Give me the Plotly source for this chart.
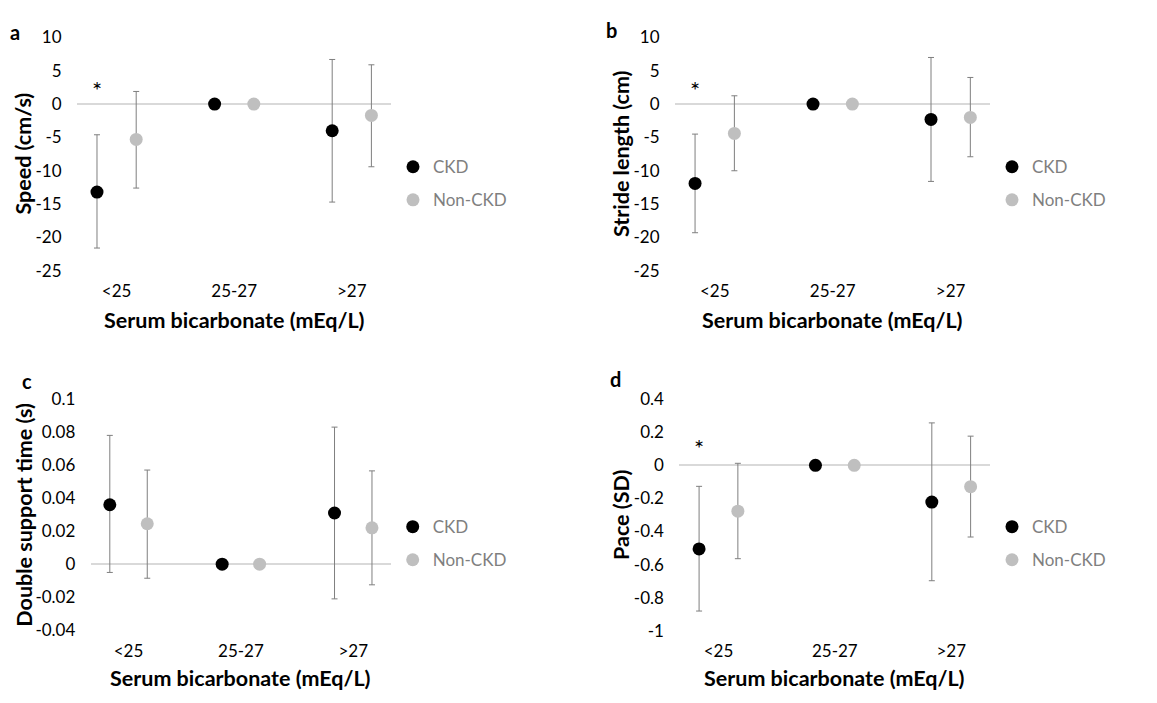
import plotly.graph_objects as go

W, H = 1157, 703

categories = ["<25", "25-27", ">27"]
series_names = ["CKD", "Non-CKD"]

# Panel a: Speed (cm/s)
speed_ckd = [-13.2, 0, -4.0]
speed_ckd_upper = [-4.6, 0, 6.7]
speed_ckd_lower = [-21.6, 0, -14.7]
speed_non = [-5.3, 0, -1.7]
speed_non_upper = [1.9, 0, 5.9]
speed_non_lower = [-12.6, 0, -9.4]

# Panel b: Stride length (cm)
stride_ckd = [-11.9, 0, -2.3]
stride_ckd_upper = [-4.5, 0, 7.0]
stride_ckd_lower = [-19.3, 0, -11.6]
stride_non = [-4.4, 0, -2.0]
stride_non_upper = [1.25, 0, 4.0]
stride_non_lower = [-10.0, 0, -7.9]

# Panel c: Double support time (s)
dst_ckd = [0.036, 0, 0.031]
dst_ckd_upper = [0.078, 0, 0.083]
dst_ckd_lower = [-0.005, 0, -0.021]
dst_non = [0.0245, 0, 0.022]
dst_non_upper = [0.057, 0, 0.0565]
dst_non_lower = [-0.0085, 0, -0.0125]

# Panel d: Pace (SD)
pace_ckd = [-0.505, 0, -0.222]
pace_ckd_upper = [-0.127, 0, 0.256]
pace_ckd_lower = [-0.88, 0, -0.697]
pace_non = [-0.277, 0, -0.129]
pace_non_upper = [0.012, 0, 0.176]
pace_non_lower = [-0.564, 0, -0.433]

# y-axis tick values per panel
speed_ticks = [10, 5, 0, -5, -10, -15, -20, -25]
stride_ticks = [10, 5, 0, -5, -10, -15, -20, -25]
dst_ticks = [0.1, 0.08, 0.06, 0.04, 0.02, 0, -0.02, -0.04]
pace_ticks = [0.4, 0.2, 0, -0.2, -0.4, -0.6, -0.8, -1]

FONT = "Lato"
BLACK = "#000000"
GREY_MARK = "#bfbfbf"
ERR = "#7f7f7f"
LEG_TXT = "#7f7f7f"
TICK_SIZE = 17
TITLE_SIZE = 21.5

panels = [
    dict(letter="a", title="Speed (cm/s)", ckd=(speed_ckd, speed_ckd_upper, speed_ckd_lower),
         non=(speed_non, speed_non_upper, speed_non_lower), ticks=speed_ticks,
         px=(77, 391), py=(27.3, 267.7), star=True, star_y=-0.3, letter_pos=(15, 22)),
    dict(letter="b", title="Stride length (cm)", ckd=(stride_ckd, stride_ckd_upper, stride_ckd_lower),
         non=(stride_non, stride_non_upper, stride_non_lower), ticks=stride_ticks,
         px=(675, 990), py=(27.3, 267.7), star=True, star_y=-0.3, letter_pos=(611, 20)),
    dict(letter="c", title="Double support time (s)", ckd=(dst_ckd, dst_ckd_upper, dst_ckd_lower),
         non=(dst_non, dst_non_upper, dst_non_lower), ticks=dst_ticks,
         px=(90.7, 390.7), py=(400, 638.3), star=False, star_y=None, letter_pos=(27, 381)),
    dict(letter="d", title="Pace (SD)", ckd=(pace_ckd, pace_ckd_upper, pace_ckd_lower),
         non=(pace_non, pace_non_upper, pace_non_lower), ticks=pace_ticks,
         px=(679.3, 990), py=(400, 639), star=True, star_y=0.01, letter_pos=(615, 379)),
]

fig = go.Figure()
layout = dict(
    width=W, height=H, margin=dict(l=0, r=0, t=0, b=0),
    paper_bgcolor="white", plot_bgcolor="white",
    font=dict(family=FONT, size=TICK_SIZE, color=BLACK),
    showlegend=True,
)
annotations = []

x_range = [0.83, 3.5]
offset = 1 / 3

for i, p in enumerate(panels):
    n = i + 1
    xa = "x" if n == 1 else f"x{n}"
    ya = "y" if n == 1 else f"y{n}"
    leg = "legend" if n == 1 else f"legend{n}"
    xpos_ckd = [k + 1 for k in range(len(categories))]
    xpos_non = [k + 1 + offset for k in range(len(categories))]
    for name, (vals, up, lo), xpos, col in [
        ("CKD", p["ckd"], xpos_ckd, BLACK),
        ("Non-CKD", p["non"], xpos_non, GREY_MARK),
    ]:
        fig.add_trace(go.Scatter(
            x=xpos, y=vals, mode="markers", name=name,
            marker=dict(color=col, size=13, line=dict(width=0)),
            error_y=dict(type="data", symmetric=False,
                         array=[u - v for u, v in zip(up, vals)],
                         arrayminus=[v - l for v, l in zip(vals, lo)],
                         color=ERR, thickness=1, width=3),
            xaxis=xa, yaxis=ya, legend=leg, legendgroup=f"{name}{n}",
            hoverinfo="skip",
        ))
    x0, x1 = p["px"]
    y0, y1 = p["py"]
    xkey = "xaxis" if n == 1 else f"xaxis{n}"
    ykey = "yaxis" if n == 1 else f"yaxis{n}"
    layout[xkey] = dict(
        domain=[x0 / W, x1 / W], range=x_range, anchor=ya,
        tickmode="array", tickvals=[k + 1 + offset / 2 for k in range(len(categories))],
        ticktext=categories, showgrid=False, zeroline=False, showline=False,
        ticks="outside", ticklen=5, tickcolor="rgba(0,0,0,0)",
        tickfont=dict(family=FONT, size=TICK_SIZE, color=BLACK), fixedrange=True,
    )
    tks = p["ticks"]
    layout[ykey] = dict(
        domain=[1 - y1 / H, 1 - y0 / H], range=[min(tks), max(tks)], anchor=xa,
        tickmode="array", tickvals=tks, ticktext=[f"{round(v, 4):g}" for v in tks],
        showgrid=False, zeroline=True, zerolinecolor="#d9d9d9", zerolinewidth=1.5,
        showline=False, ticks="outside", ticklen=11, tickcolor="rgba(0,0,0,0)",
        tickfont=dict(family=FONT, size=TICK_SIZE, color=BLACK), fixedrange=True,
    )
    # legend
    ymid = (y0 + y1) / 2
    leg_y = {1: 178, 2: 178, 3: 549, 4: 549}[n]
    layout[leg] = dict(
        x=(x1 + 2) / W, y=1 - leg_y / H, xanchor="left", yanchor="middle",
        font=dict(family=FONT, size=TICK_SIZE, color=LEG_TXT), bgcolor="rgba(0,0,0,0)",
        tracegroupgap=8, itemclick=False, itemdoubleclick=False, itemwidth=30,
    )
    # axis titles
    annotations.append(dict(
        text="<b>Serum bicarbonate (mEq/L)</b>", xref="paper", yref="paper",
        x=(x0 + x1) / 2 / W, y=1 - (318 if n <= 2 else 688) / H,
        xanchor="center", yanchor="middle", showarrow=False,
        font=dict(family=FONT, size=TITLE_SIZE, color=BLACK),
    ))
    annotations.append(dict(
        text=f"<b>{p['title']}</b>", xref="paper", yref="paper",
        x=({1: 23.5, 2: 621, 3: 24, 4: 621}[n]) / W, y=1 - ymid / H,
        xanchor="center", yanchor="middle", showarrow=False, textangle=-90,
        font=dict(family=FONT, size=TITLE_SIZE, color=BLACK),
    ))
    lx, ly = p["letter_pos"]
    annotations.append(dict(
        text=f"<b>{p['letter']}</b>", xref="paper", yref="paper",
        x=lx / W, y=1 - ly / H, xanchor="center", yanchor="middle", showarrow=False,
        font=dict(family=FONT, size=20, color=BLACK),
    ))
    if p["star"]:
        annotations.append(dict(
            text="*", xref=xa, yref=ya, x=xpos_ckd[0], y=p["star_y"],
            xanchor="center", yanchor="bottom", showarrow=False,
            font=dict(family=FONT, size=24, color=BLACK),
        ))

layout["annotations"] = annotations
fig.update_layout(**layout)
fig.write_html(
    "out.html",
    config={"displayModeBar": False},
    post_script="document.body.style.margin='0';document.body.style.overflow='hidden';",
)
